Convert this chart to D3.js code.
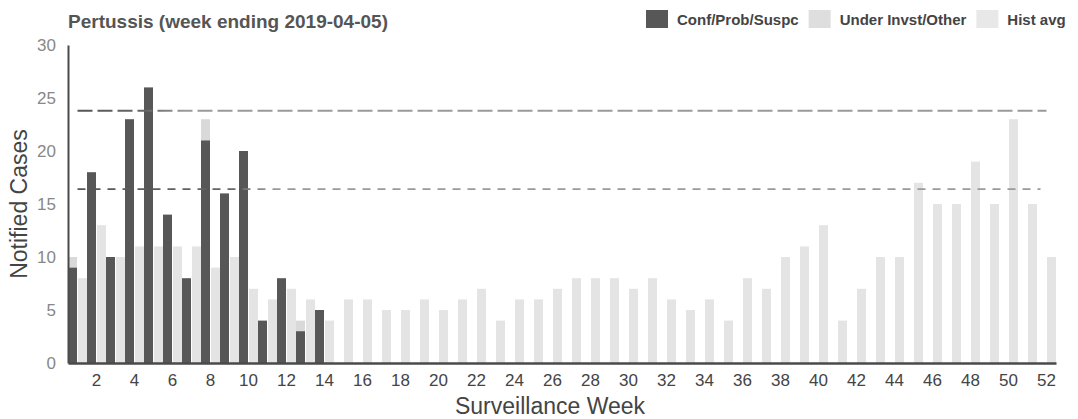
<!DOCTYPE html>
<html><head><meta charset="utf-8">
<script src="https://cdn.jsdelivr.net/npm/d3@7"></script>
<style>html,body{margin:0;padding:0;background:#fff;overflow:hidden}svg{display:block}</style>
</head><body>
<svg id="chart" width="1078" height="419"></svg>
<script>
// ---- data ----
const weeks = [1,2,3,4,5,6,7,8,9,10,11,12,13,14,15,16,17,18,19,20,21,22,23,24,25,26,27,28,29,30,31,32,33,34,35,36,37,38,39,40,41,42,43,44,45,46,47,48,49,50,51,52];
const confWeeks = [1,2,3,4,5,6,7,8,9,10,11,12,13,14];
const confirmed = [9,18,10,23,26,14,8,21,16,20,4,8,3,5];
const underInvst = [1,0,0,0,0,0,0,2,0,0,0,0,1,0];
const histAvg = [8,13,10,11,11,11,11,9,10,7,6,7,6,4,6,6,5,5,6,5,6,7,4,6,6,7,8,8,8,7,8,6,5,6,4,8,7,10,11,13,4,7,10,10,17,15,15,19,15,23,15,10];
const upperThreshold = 23.8;
const lowerThreshold = 16.4;
const xTickLabels = [2,4,6,8,10,12,14,16,18,20,22,24,26,28,30,32,34,36,38,40,42,44,46,48,50,52];
const yTickLabels = [0,5,10,15,20,25,30];
const legendLabels = ["Conf/Prob/Suspc","Under Invst/Other","Hist avg"];
const titleText = "Pertussis (week ending 2019-04-05)";

// ---- styles ----
const FONT = "'Liberation Sans', Arial, sans-serif";
const C_DARK = "#575757", C_UNDER = "#d9d9d9", C_HIST = "#e4e4e4";

const svg = d3.select("#chart");
const x = d3.scaleBand().domain(weeks).range([68, 1056]).paddingInner(0).paddingOuter(0);
const x1 = d3.scaleBand().domain(["cur","hist"]).range([0, x.bandwidth()]).paddingInner(0.1);
const y = d3.scaleLinear().domain([0, 30]).range([363, 45]);

// gradients for threshold lines
const defs = svg.append("defs");
function grad(id, stop) {
  const g = defs.append("linearGradient").attr("id", id).attr("gradientUnits","userSpaceOnUse")
    .attr("x1", x(1) + x.bandwidth()/2).attr("x2", x(52) + x.bandwidth()/2).attr("y1",0).attr("y2",0);
  g.append("stop").attr("offset", 0).attr("stop-color", "#555");
  g.append("stop").attr("offset", stop).attr("stop-color", "#666");
  g.append("stop").attr("offset", stop + 0.04).attr("stop-color", "#9a9a9a");
  g.append("stop").attr("offset", 1).attr("stop-color", "#9a9a9a");
}
grad("gUp", 0.07);
grad("gLo", 0.16);

// hist bars
svg.append("g").selectAll("rect").data(weeks).join("rect")
  .attr("x", (d) => x(d) + x1("hist"))
  .attr("width", x1.bandwidth())
  .attr("y", (d, i) => y(histAvg[i]))
  .attr("height", (d, i) => y(0) - y(histAvg[i]))
  .attr("fill", C_HIST);

// under investigation (stacked on confirmed)
svg.append("g").selectAll("rect").data(confWeeks).join("rect")
  .attr("x", (d) => x(d) + x1("cur"))
  .attr("width", x1.bandwidth())
  .attr("y", (d, i) => y(confirmed[i] + underInvst[i]))
  .attr("height", (d, i) => y(confirmed[i]) - y(confirmed[i] + underInvst[i]))
  .attr("fill", C_UNDER);

// confirmed bars
svg.append("g").selectAll("rect").data(confWeeks).join("rect")
  .attr("x", (d) => x(d) + x1("cur"))
  .attr("width", x1.bandwidth())
  .attr("y", (d, i) => y(confirmed[i]))
  .attr("height", (d, i) => y(0) - y(confirmed[i]))
  .attr("fill", C_DARK);

// thresholds
const xl0 = x(1) + x.bandwidth()/2, xl1 = x(52) + x.bandwidth()/2;
svg.append("line").attr("x1", xl0).attr("x2", xl1)
  .attr("y1", y(upperThreshold)).attr("y2", y(upperThreshold))
  .attr("stroke", "url(#gUp)").attr("stroke-width", 2).attr("stroke-dasharray", "15,5");
svg.append("line").attr("x1", xl0).attr("x2", xl1 - 6)
  .attr("y1", y(lowerThreshold)).attr("y2", y(lowerThreshold))
  .attr("stroke", "url(#gLo)").attr("stroke-width", 1.6).attr("stroke-dasharray", "8,7");

// x axis
const gx = svg.append("g").attr("transform", `translate(0,${y(0)})`)
  .call(d3.axisBottom(x).tickValues(xTickLabels).tickSize(0).tickSizeOuter(0).tickPadding(11));
gx.select(".domain").attr("stroke", "#4a4a4a").attr("stroke-width", 2.5);
gx.selectAll("text").attr("font-family", FONT).attr("font-size", 17).attr("fill", "#444");

// y axis
const gy = svg.append("g").attr("transform", `translate(${x.range()[0]},0)`)
  .call(d3.axisLeft(y).tickValues(yTickLabels).tickSize(0).tickSizeOuter(0).tickPadding(12));
gy.select(".domain").attr("stroke", "#4a4a4a").attr("stroke-width", 2);
gy.selectAll("text").attr("font-family", FONT).attr("font-size", 17).attr("fill", "#888");

// axis titles
svg.append("text").attr("transform", `translate(27,${(y(0)+y(30))/2}) rotate(-90)`)
  .attr("text-anchor", "middle").attr("font-family", FONT).attr("font-size", 23).attr("fill", "#444")
  .text("Notified Cases");
svg.append("text").attr("x", 550).attr("y", 414)
  .attr("text-anchor", "middle").attr("font-family", FONT).attr("font-size", 23).attr("fill", "#444")
  .text("Surveillance Week");

// title
svg.append("text").attr("x", 68).attr("y", 28)
  .attr("font-family", FONT).attr("font-size", 19).attr("font-weight", "bold").attr("fill", "#555")
  .text(titleText);

// legend
const legColors = [C_DARK, "#dedede", "#e8e8e8"];
let lx = 646;
legendLabels.forEach((lab, i) => {
  svg.append("rect").attr("x", lx).attr("y", 10).attr("width", 22).attr("height", 18).attr("fill", legColors[i]);
  const t = svg.append("text").attr("x", lx + 31).attr("y", 25)
    .attr("font-family", FONT).attr("font-size", 15).attr("font-weight", "bold").attr("fill", "#444")
    .text(lab);
  lx += 31 + t.node().getComputedTextLength() + 10;
});
</script>
</body></html>
